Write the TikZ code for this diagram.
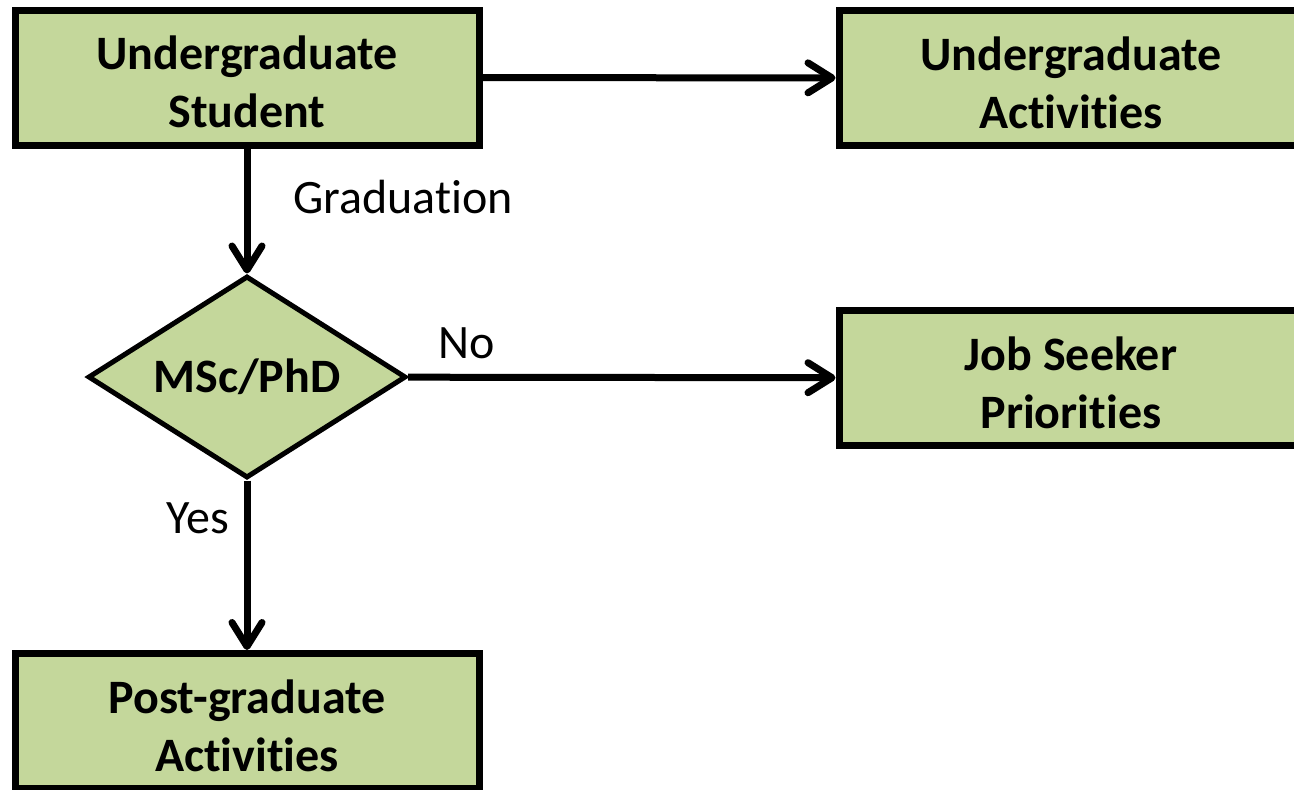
\documentclass[tikz,border=0pt]{standalone}
\usepackage{fontspec}
\setmainfont[Ligatures={NoCommon,NoContextual}, Contextuals=NoAlternate, RawFeature={-liga;-clig;-calt;-rlig}]{Carlito}
\usetikzlibrary{shapes.geometric,arrows.meta}
\definecolor{boxgreen}{RGB}{196,215,155}

\begin{document}
\begin{tikzpicture}
[
    x=1pt, y=-1pt,
    box/.style={draw, fill=boxgreen, line width=7pt, minimum width=464pt, minimum height=135pt, align=center, text height=100pt, text depth=0pt, font=\bfseries\fontsize{48}{58}\selectfont},
    decision/.style={diamond, draw, fill=boxgreen, line width=5pt, aspect=1.6, inner sep=0pt, minimum width=318pt, minimum height=202pt, font=\bfseries\fontsize{48}{58}\selectfont},
    flow/.style={line width=7pt, -{Straight Barb[length=24pt, width=30pt, round]}},
    lbl/.style={font=\fontsize{48}{58}\selectfont, inner sep=0pt},
]
\useasboundingbox (0,0) rectangle (1294,790);
\node [box] (student) at (247,77.5) {Undergraduate\\Student};
\node [box] (ugact) at (1071,78) {Undergraduate\\Activities};
\node [decision] (msc) at (247,377) {MSc/PhD};
\node [box] (job) at (1071,378) {Job Seeker\\Priorities};
\node [box] (pgact) at (247,721) {Post-graduate\\Activities};

\draw [flow] (student) -- (ugact);
\draw [flow] (student) -- node[lbl, pos=0.39, right=43pt] (grad) {Graduation} (msc);
\draw [flow] (msc) -- node[lbl, pos=0.136, above=15pt] (no) {No} (job);
\draw [flow] (msc) -- node[lbl, pos=0.22, left=14pt] (yes) {Yes} (pgact);
\end{tikzpicture}
\end{document}
